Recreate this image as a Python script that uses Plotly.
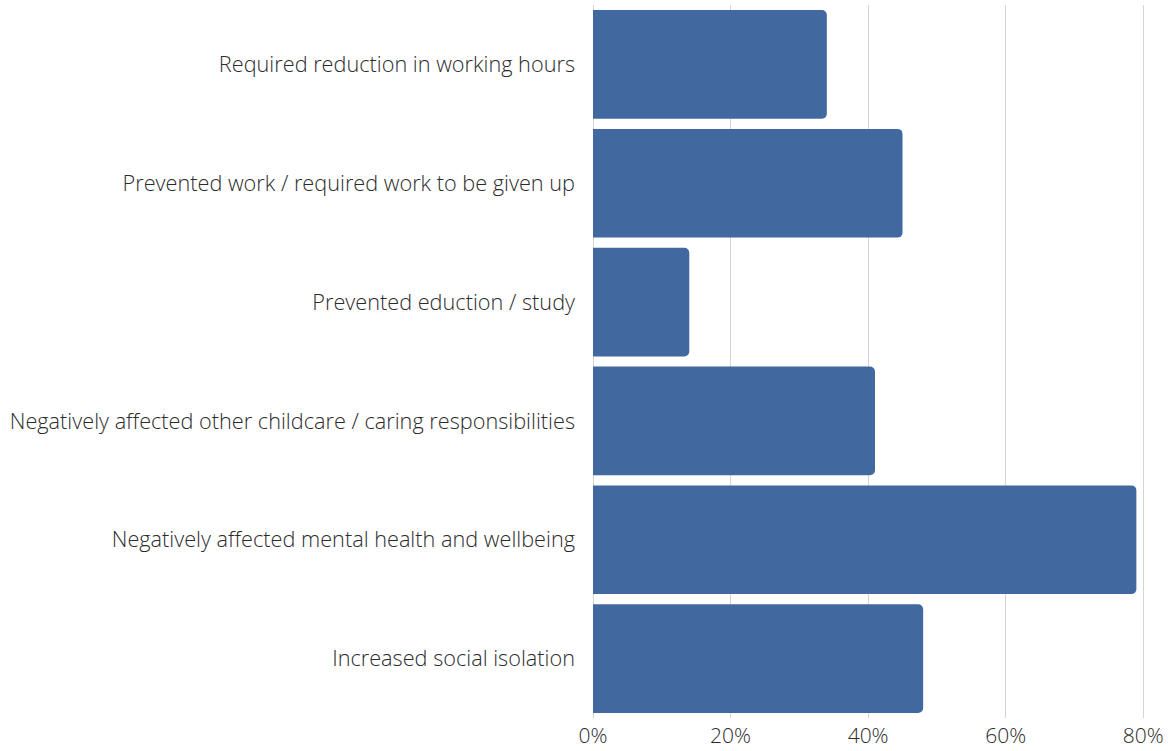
import plotly.graph_objects as go

# Survey impacts, listed top to bottom
categories = [
    "Required reduction in working hours",
    "Prevented work / required work to be given up",
    "Prevented eduction / study",
    "Negatively affected other childcare / caring responsibilities",
    "Negatively affected mental health and wellbeing",
    "Increased social isolation",
]
percent = [34, 45, 14, 41, 79, 48]

tick_vals = [0, 20, 40, 60, 80]
tick_text = ["0%", "20%", "40%", "60%", "80%"]

fig = go.Figure(
    go.Bar(
        x=percent,
        y=categories,
        orientation="h",
        marker=dict(color="#4169a0", line=dict(width=0)),
        hoverinfo="x+y",
    )
)

font_main = dict(family="Open Sans", size=21.7, color="#2b2b2b", weight=300)
font_ticks = dict(family="Open Sans", size=21, color="#2b2b2b", weight=300)

fig.update_layout(
    width=1168,
    height=751,
    margin=dict(l=593, r=11, t=5, b=33),
    paper_bgcolor="white",
    plot_bgcolor="white",
    bargap=0.085,
    barcornerradius=5,
    showlegend=False,
    font=font_main,
    xaxis=dict(
        range=[0, 82],
        tickvals=tick_vals,
        ticktext=tick_text,
        showgrid=True,
        gridcolor="#d4d4d4",
        gridwidth=1,
        zeroline=True,
        zerolinecolor="#d4d4d4",
        zerolinewidth=1,
        showline=False,
        ticks="",
        ticklabelstandoff=3,
        automargin=False,
        tickfont=font_ticks,
        fixedrange=True,
    ),
    yaxis=dict(
        autorange="reversed",
        showgrid=False,
        showline=False,
        ticks="",
        ticklabelstandoff=17,
        automargin=False,
        tickfont=font_main,
        fixedrange=True,
    ),
)

fig.write_html("out.html")
